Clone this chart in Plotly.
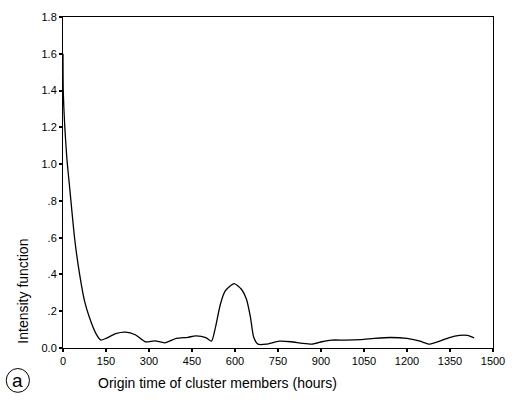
import plotly.graph_objects as go

# Intensity function of cluster members versus origin time
hours = [0, 1, 13, 24, 41, 58, 75, 92, 115, 132, 150, 184, 218, 252, 287, 321, 355,
         395, 435, 463, 498, 518, 532, 549, 566, 597, 623, 640, 654, 665, 680, 709,
         754, 795, 835, 869, 903, 937, 983, 1040, 1086, 1143, 1200, 1245, 1280, 1314,
         1348, 1383, 1411, 1434]
intensity = [1.60, 1.39, 1.04, 0.86, 0.59, 0.40, 0.256, 0.167, 0.078, 0.043, 0.052,
             0.078, 0.086, 0.072, 0.034, 0.039, 0.028, 0.052, 0.058, 0.066, 0.057,
             0.037, 0.114, 0.238, 0.31, 0.35, 0.318, 0.265, 0.167, 0.06, 0.021, 0.021,
             0.037, 0.034, 0.025, 0.021, 0.034, 0.043, 0.043, 0.046, 0.052, 0.057,
             0.052, 0.037, 0.021, 0.037, 0.057, 0.069, 0.069, 0.055]

x_ticks = [0, 150, 300, 450, 600, 750, 900, 1050, 1200, 1350, 1500]
y_ticks = [0.0, 0.2, 0.4, 0.6, 0.8, 1.0, 1.2, 1.4, 1.6, 1.8]
y_tick_labels = ["0.0", ".2", ".4", ".6", ".8", "1.0", "1.2", "1.4", "1.6", "1.8"]

FONT = "Liberation Sans, Arial, sans-serif"

fig = go.Figure(
    go.Scatter(
        x=hours, y=intensity, mode="lines",
        line=dict(color="black", width=1.3, shape="spline", smoothing=0.6),
        hoverinfo="skip", showlegend=False,
    )
)

axis_common = dict(
    showline=True, linecolor="black", linewidth=1, mirror=True,
    showgrid=False, zeroline=False,
    ticks="outside", ticklen=3, tickwidth=2, tickcolor="black",
    tickfont=dict(family=FONT, size=11, color="black"),
)

fig.update_xaxes(range=[0, 1500], tickvals=x_ticks, **axis_common)
fig.update_yaxes(range=[0, 1.8], tickvals=y_ticks, ticktext=y_tick_labels, **axis_common)

fig.add_annotation(
    text="Intensity function", textangle=-90,
    xref="paper", yref="paper", x=-0.094, y=0.172, xanchor="center", yanchor="middle",
    showarrow=False, font=dict(family=FONT, size=14, color="black"),
)
fig.add_annotation(
    text="Origin time of cluster members (hours)",
    xref="paper", yref="paper", x=0.36, y=-0.105, xanchor="center", yanchor="middle",
    showarrow=False, font=dict(family=FONT, size=14, color="black"),
)
# panel label: circled "a"
fig.add_shape(type="circle", xref="paper", yref="paper",
              x0=-0.132, x1=-0.078, y0=-0.134, y1=-0.062,
              line=dict(color="black", width=1))
fig.add_annotation(
    text="a", xref="paper", yref="paper", x=-0.105, y=-0.098, xanchor="center",
    yanchor="middle", showarrow=False, font=dict(family=FONT, size=19, color="black"),
)

fig.update_layout(
    width=516, height=412,
    margin=dict(l=63, r=15, t=11, b=64),
    paper_bgcolor="white", plot_bgcolor="white",
)

fig.write_html("out.html")
